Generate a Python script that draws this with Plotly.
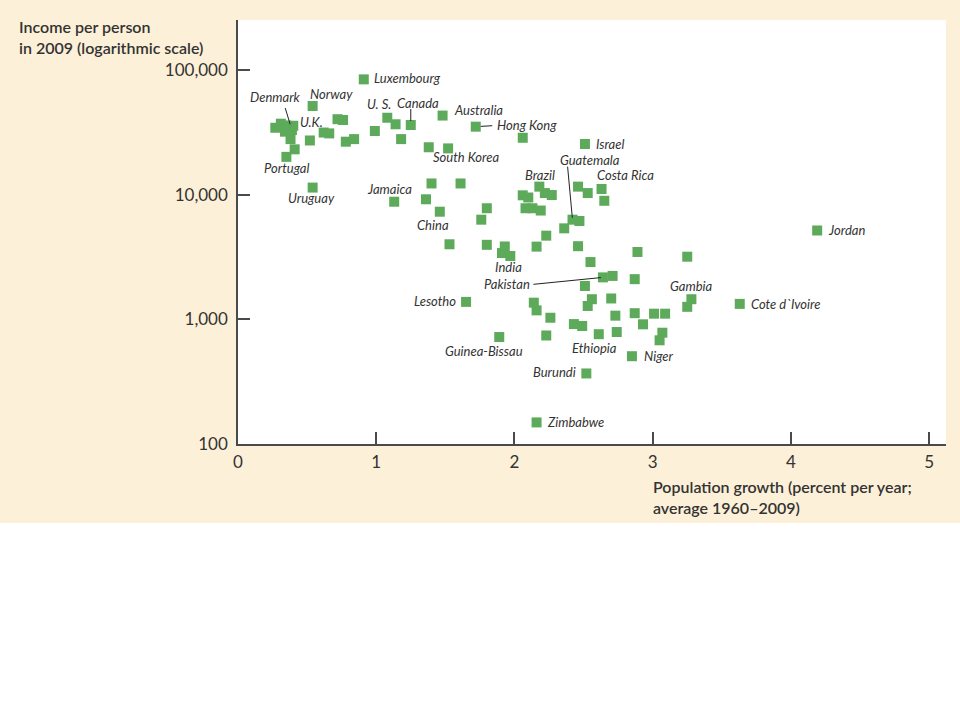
import math
import plotly.graph_objects as go

# ---------------- data ----------------
# population growth, percent per year (average 1960-2009)
growth = [0.27, 0.31, 0.35, 0.34, 0.39, 0.40, 0.38, 0.41, 0.35, 0.52,
          0.62, 0.66, 0.72, 0.76, 0.78, 0.84, 0.99, 0.54, 0.91, 0.54,
          1.08, 1.14, 1.25, 1.18, 1.48, 1.72, 2.06, 1.38, 1.52, 2.51,
          1.13, 1.40, 1.61, 1.36, 1.46, 1.80, 1.76, 2.18, 2.06, 2.10,
          2.22, 2.27, 2.08, 2.13, 2.19, 2.46, 2.53, 2.63, 2.65, 2.42,
          2.47, 2.36, 2.23, 1.53, 1.80, 1.93, 1.91, 1.97, 2.16, 2.46,
          2.55, 2.89, 3.25, 4.19, 2.64, 2.71, 2.87, 2.51, 2.56, 2.53,
          2.70, 2.14, 2.16, 2.26, 2.43, 2.49, 2.73, 2.87, 2.93, 3.01,
          3.09, 2.74, 2.61, 3.07, 3.05, 2.23, 1.89, 2.85, 2.52, 2.16,
          1.65, 3.28, 3.25, 3.63]

# income per person in 2009
income = [34400, 37100, 35900, 32000, 33000, 35700, 27900, 23100, 20100, 27200,
          31500, 31000, 40300, 39700, 26600, 27900, 32400, 51400, 84100, 11400,
          41400, 36700, 36200, 27900, 43100, 35100, 28600, 24000, 23500, 25500,
          8780, 12300, 12300, 9180, 7300, 7780, 6300, 11600, 9880, 9490,
          10300, 9930, 7780, 7780, 7460, 11600, 10300, 11100, 8930, 6300,
          6150, 5370, 4690, 4000, 3960, 3840, 3400, 3220, 3830, 3860,
          2880, 3470, 3180, 5160, 2170, 2230, 2100, 1850, 1450, 1280,
          1470, 1360, 1180, 1030, 916, 884, 1070, 1120, 912, 1110,
          1110, 791, 760, 781, 679, 742, 721, 506, 368, 149,
          1380, 1450, 1260, 1330]

# country names (empty = unlabeled point)
names = ["", "", "", "", "Denmark", "U.K.", "", "", "Portugal", "",
         "", "", "", "", "", "", "", "Norway", "Luxembourg", "Uruguay",
         "U. S.", "", "Canada", "", "Australia", "Hong Kong", "", "", "South Korea", "Israel",
         "Jamaica", "", "", "", "China", "", "", "Brazil", "", "",
         "", "", "", "", "", "", "", "Costa Rica", "", "Guatemala",
         "", "", "", "", "", "", "", "India", "", "",
         "", "", "", "Jordan", "Pakistan", "", "", "", "", "",
         "", "", "", "", "", "", "", "", "", "",
         "", "", "Ethiopia", "", "", "", "Guinea-Bissau", "Niger", "Burundi", "Zimbabwe",
         "Lesotho", "Gambia", "", "Cote d`Ivoire"]

y_tick_vals = [100, 1000, 10000, 100000]
y_tick_text = ["100", "1,000", "10,000", "100,000"]
x_tick_vals = [0, 1, 2, 3, 4, 5]
x_tick_text = ["0", "1", "2", "3", "4", "5"]

y_title = "Income per person<br>in 2009 (logarithmic scale)"
x_title = "Population growth (percent per year;<br>average 1960\u20132009)"

# ---------------- label styling (pixel offsets) ----------------
# name: (xanchor, dx, dy)  dy positive = downwards on screen
label_style = {
    "Luxembourg": ("left", 8, -1),
    "Norway": ("center", 19, -12),
    "Denmark": ("center", -16, -33),
    "U.K.": ("left", 5, -4),
    "Portugal": ("center", 0, 11.5),
    "Uruguay": ("center", -1, 10.5),
    "U. S.": ("center", -8, -14),
    "Canada": ("center", 7, -22),
    "Australia": ("left", 9, -5.5),
    "Hong Kong": ("left", 19, -2),
    "South Korea": ("center", 18, 9),
    "Israel": ("left", 9, 0),
    "Jamaica": ("center", -5, -13),
    "China": ("center", -7, 13),
    "Brazil": ("center", 1, -12),
    "Costa Rica": ("center", 24, -14),
    "Guatemala": ("center", 17, -60),
    "India": ("center", -2, 11),
    "Pakistan": ("center", -96, 6.5),
    "Lesotho": ("right", -8, -1),
    "Guinea-Bissau": ("center", -15, 14),
    "Ethiopia": ("center", -4, 14),
    "Niger": ("left", 10, 0),
    "Burundi": ("right", -8, -1.5),
    "Zimbabwe": ("left", 8, 0),
    "Gambia": ("center", 0, -13),
    "Cote d`Ivoire": ("left", 9, 0),
    "Jordan": ("left", 9, 0),
}
# leader lines: name: (tail dx, tail dy, standoff)
leader_style = {
    "Denmark": (-7, -23, 6),
    "Canada": (0, -17, 4),
    "Hong Kong": (17, -1, 5),
    "Guatemala": (-5, -54, 2),
    "Pakistan": (-70, 7, 2),
}

BEIGE = "#FDF0D8"
GREEN = "#5DAA5B"
TEXT = "#333333"
AXIS = "#4a4a4a"
FONT = "Lato, 'Open Sans', sans-serif"

fig = go.Figure()
fig.add_trace(go.Scatter(
    x=growth, y=income, mode="markers",
    marker=dict(symbol="square", size=10, color=GREEN, line=dict(width=0)),
    hoverinfo="skip", showlegend=False,
))

annotations = []
for gx, inc, nm in zip(growth, income, names):
    if not nm:
        continue
    ly = math.log10(inc)  # annotations on a log axis take log10 positions
    anchor, dx, dy = label_style[nm]
    annotations.append(dict(
        x=gx, y=ly, xref="x", yref="y", text="<i>" + nm + "</i>",
        showarrow=False, xanchor=anchor, yanchor="middle",
        xshift=dx, yshift=-dy,
        font=dict(family=FONT, size=13, color=TEXT),
    ))
    if nm in leader_style:
        tx, ty, so = leader_style[nm]
        annotations.append(dict(
            x=gx, y=ly, xref="x", yref="y", text=" ",
            showarrow=True, arrowhead=0, arrowwidth=1, arrowcolor="#222222",
            ax=tx, ay=ty, standoff=so, startstandoff=0,
            font=dict(size=1), borderpad=0,
        ))

# layout geometry
L, R, T, B = 238, 14, 20, 276
W, H = 960, 720
pw, ph = W - L - R, H - T - B

def px_to_paper(px, py):
    return (px - L) / pw, (H - B - py) / ph

tx0, ty0 = px_to_paper(17, 15)
annotations.append(dict(
    x=tx0, y=ty0, xref="paper", yref="paper", text=y_title,
    showarrow=False, xanchor="left", yanchor="top", align="left",
    font=dict(family=FONT, size=16, color=TEXT, weight=600),
))
tx1, ty1 = px_to_paper(651, 475)
annotations.append(dict(
    x=tx1, y=ty1, xref="paper", yref="paper", text=x_title,
    showarrow=False, xanchor="left", yanchor="top", align="left",
    font=dict(family=FONT, size=16, color=TEXT, weight=600),
))

_, by0 = px_to_paper(0, 730)
_, by1 = px_to_paper(0, 523)
fig.update_layout(
    width=W, height=H,
    margin=dict(l=L, r=R, t=T, b=B, pad=0),
    paper_bgcolor=BEIGE, plot_bgcolor="white",
    annotations=annotations,
    shapes=[dict(type="rect", xref="paper", yref="paper",
                 x0=-0.4, x1=1.1, y0=by0, y1=by1,
                 fillcolor="white", line=dict(width=0), layer="below")],
    xaxis=dict(
        range=[0, 5.122], tickvals=x_tick_vals, ticktext=x_tick_text,
        ticks="inside", ticklen=12, tickwidth=1.5, tickcolor=AXIS,
        showline=True, linecolor=AXIS, linewidth=1.5,
        showgrid=False, zeroline=False, ticklabelstandoff=2,
        tickfont=dict(family=FONT, size=17, color=TEXT),
    ),
    yaxis=dict(
        type="log", range=[2, 5.401], tickvals=y_tick_vals, ticktext=y_tick_text,
        ticks="inside", ticklen=12, tickwidth=1.5, tickcolor=AXIS,
        showline=True, linecolor=AXIS, linewidth=1.5,
        showgrid=False, zeroline=False, ticklabelstandoff=5,
        tickfont=dict(family=FONT, size=17, color=TEXT),
    ),
)

fig.write_html("out.html",
               config={"displayModeBar": False},
               post_script="document.body.style.margin='0px';document.body.style.overflow='hidden';")
